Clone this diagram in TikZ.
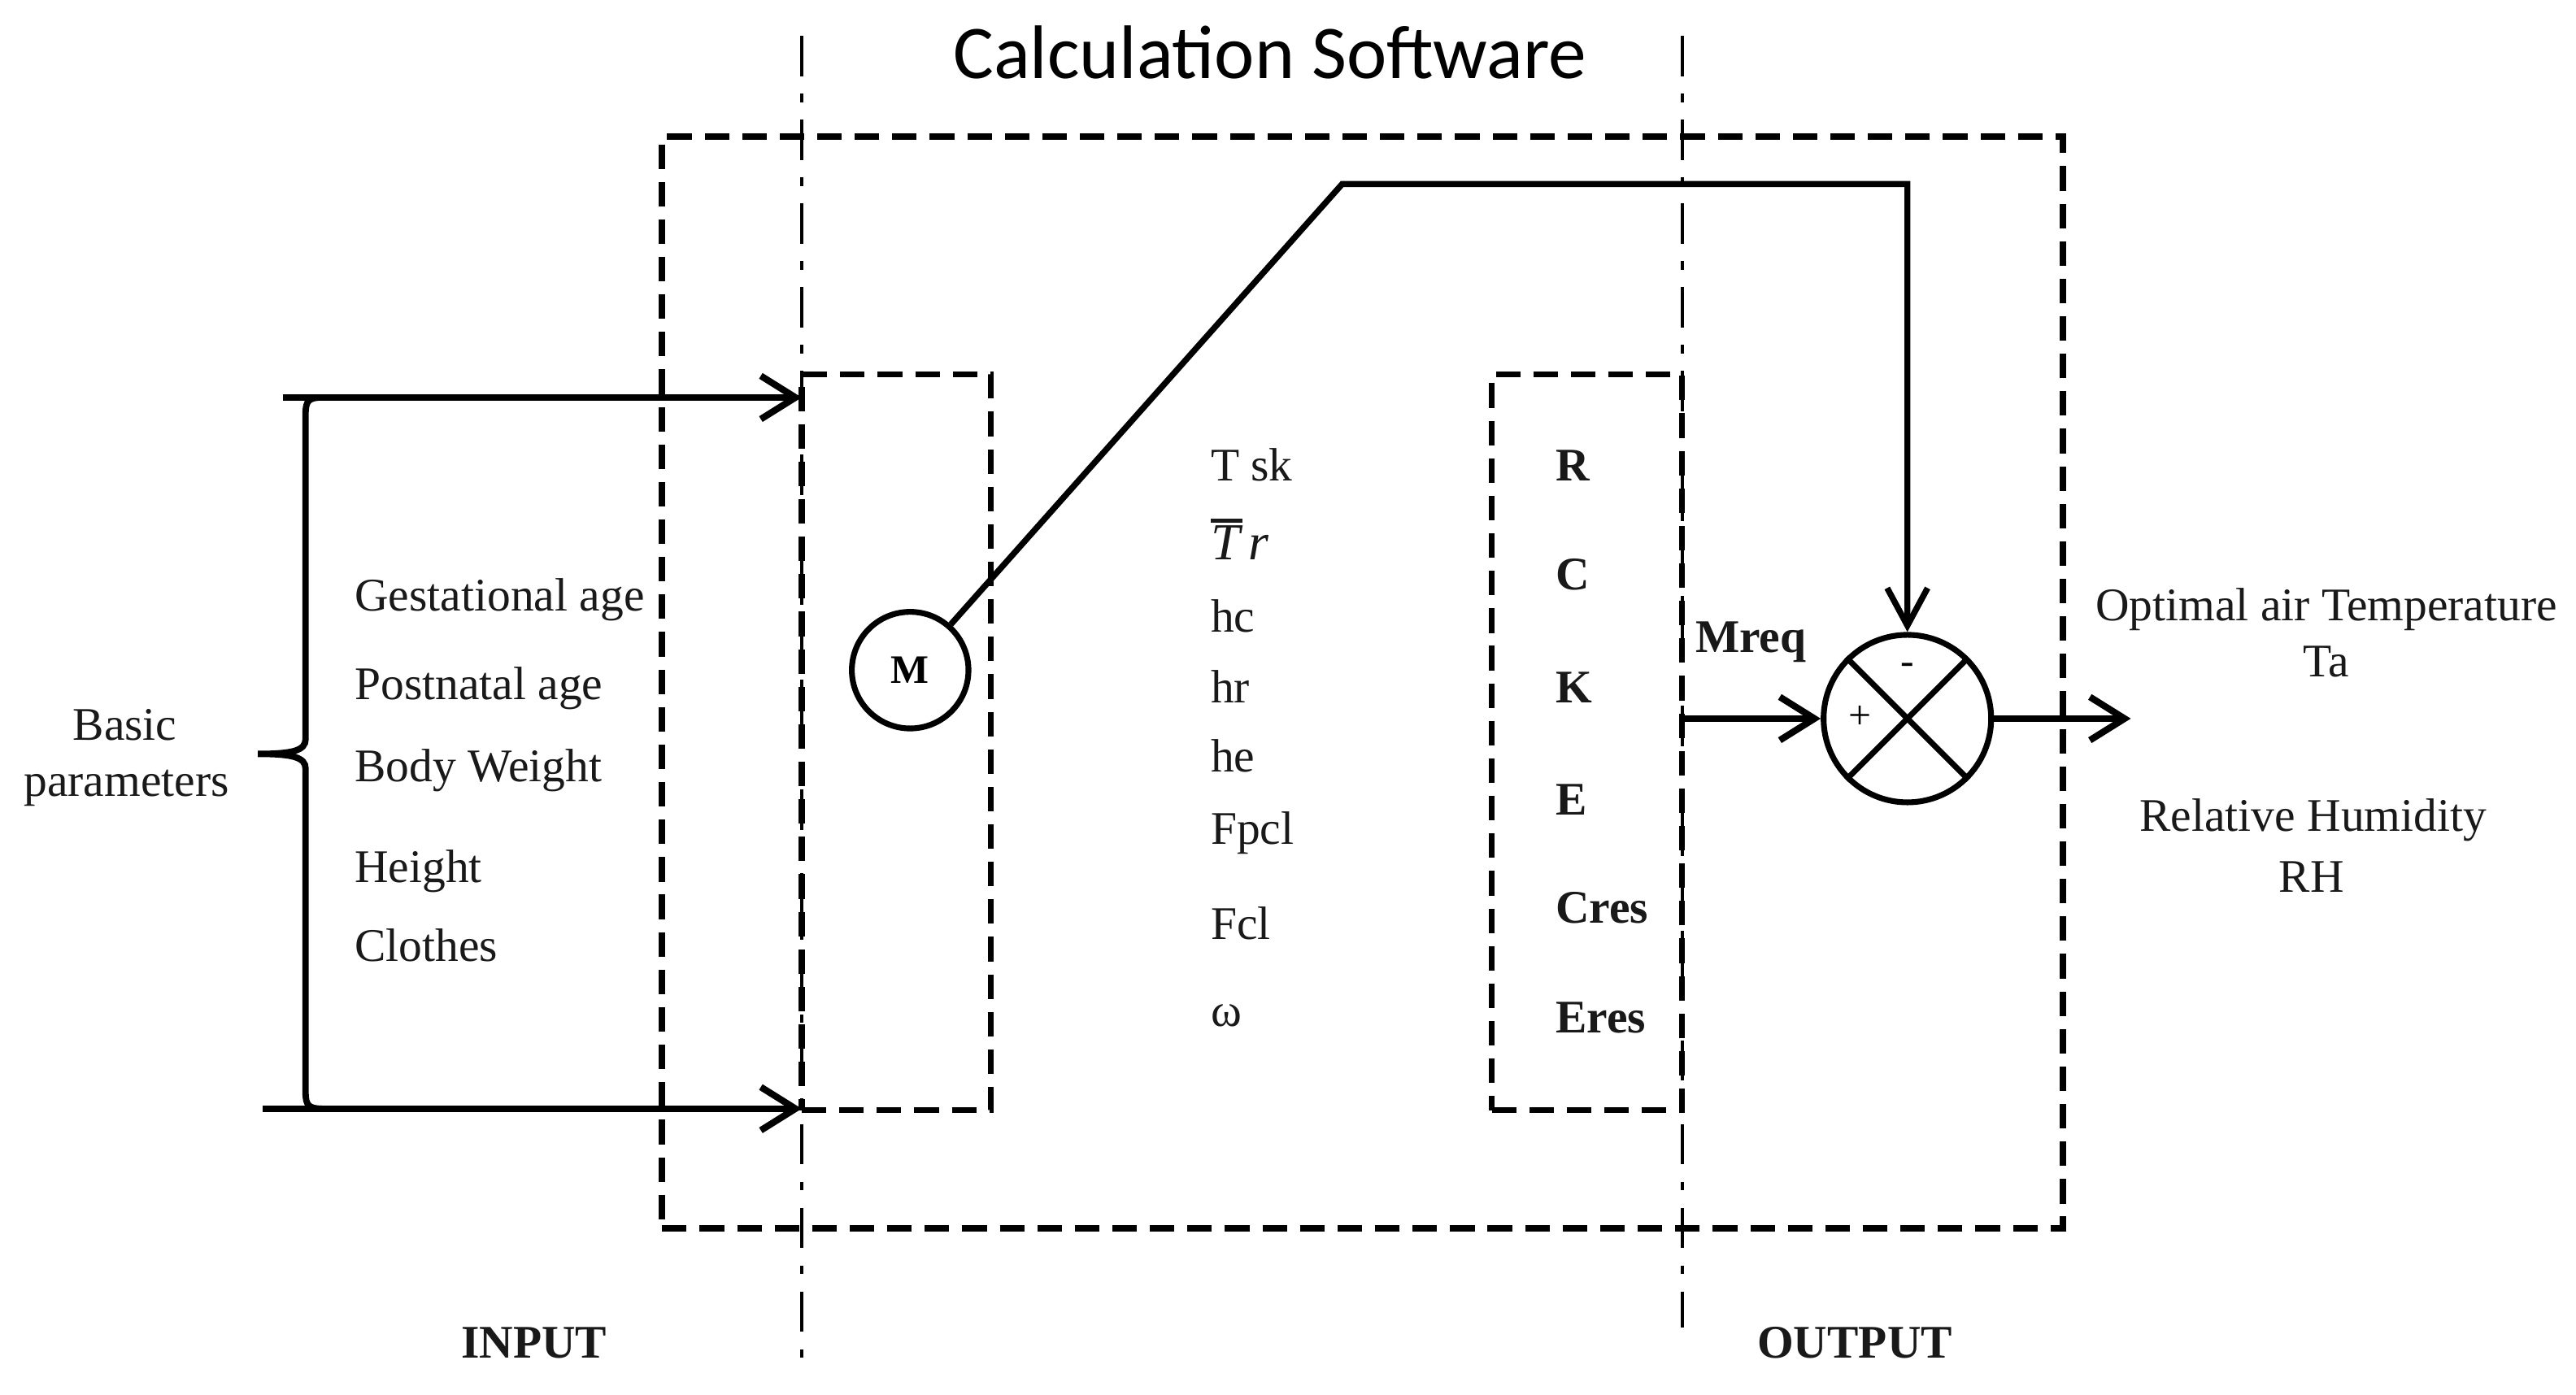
\documentclass[tikz,border=0pt]{standalone}
\usepackage{fontspec}
\setmainfont{Liberation Serif}
\newfontfamily\titlefont{Carlito}
\usetikzlibrary{arrows.meta}
\begin{document}
\begin{tikzpicture}[x=0.02cm,y=-0.02cm,
  txt/.style={inner sep=0pt, outer sep=0pt, text=black!90, font=\fontsize{16.2}{19}\selectfont},
  txtw/.style={txt, anchor=base west},
  txtc/.style={txt, anchor=base},
  btxtw/.style={txtw, font=\fontsize{16.2}{19}\selectfont\bfseries},
  btxtc/.style={txtc, font=\fontsize{16.2}{19}\selectfont\bfseries},
  dashbox/.style={draw, line width=2pt, dash pattern=on 8.5pt off 4.5pt, inner sep=0pt, outer sep=0pt, anchor=north west},
  dashdotline/.style={line width=1.1pt, dash pattern=on 14pt off 6pt on 3pt off 6pt},
  arr/.style={line width=2.3pt, -{Straight Barb[length=12pt,width=15pt]}},
  conn/.style={line width=2.1pt, line join=miter, -{Straight Barb[length=13pt,width=14pt]}},
  ring/.style={circle, draw, line width=2pt, inner sep=0pt},
  sign/.style={inner sep=0pt, font=\fontsize{14}{16}\selectfont},
]
\fill[white] (0,0) rectangle (1568,849);
\useasboundingbox (0,0) rectangle (1568,849);

% title
\node[anchor=base, inner sep=0pt, font=\titlefont\fontsize{26.3}{30}\selectfont] (title) at (773,48) {Calculation Software};

% boxes
\node[dashbox, line width=2.2pt, minimum width=17.06cm, minimum height=13.3cm] (soft) at (403,83) {};
\node[dashbox, minimum width=2.3cm, minimum height=8.96cm] (inbox) at (488,228) {};
\node[dashbox, minimum width=2.32cm, minimum height=8.96cm] (outbox) at (908,228) {};

% dash-dot separators
\coordinate (dl1) at (488,22);
\coordinate (dl2) at (488,830);
\coordinate (dr1) at (1024,22);
\coordinate (dr2) at (1024,808);
\draw[dashdotline] (dl1) -- (dl2);
\draw[dashdotline] (dr1) -- (dr2);

% brace and input arrows
\coordinate (topstart) at (172,242);
\coordinate (botstart) at (160,675);
\coordinate (btip) at (157,459);
\draw[line width=2.2pt] (196,242) .. controls (188,242) and (186,244) .. (186,252) -- (186,450)
  .. controls (186,457) and (178,459) .. (btip)
  .. controls (178,459) and (186,461) .. (186,468) -- (186,665)
  .. controls (186,673) and (188,675) .. (196,675);
\draw[arr] (topstart) -- (topstart -| inbox.west);
\draw[arr] (botstart) -- (botstart -| inbox.west);

\node[txtc] (basic1) at (76,450.5) {Basic};
\node[txtc] (basic2) at (77,485) {parameters};

\node[txtw] (ga) at (216,372) {Gestational age};
\node[txtw] (pa) at (216,426) {Postnatal age};
\node[txtw] (bw) at (216,476) {Body Weight};
\node[txtw] (ht) at (216,537.5) {Height};
\node[txtw] (cl) at (216,585.5) {Clothes};

% M circle
\node[ring, minimum size=1.42cm, font=\bfseries\fontsize{14}{16}\selectfont] (m) at (554,408) {M};

% middle variables
\node[txtw] (tsk) at (737,293) {T sk};
\node[txtw, font=\fontsize{18}{20}\selectfont\itshape] (tr) at (737,341) {\makebox[0pt][l]{\rule[13pt]{11pt}{1.3pt}}T\,r};
\node[txtw] (hc) at (737,385) {hc};
\node[txtw] (hr) at (737,428) {hr};
\node[txtw] (he) at (737,470) {he};
\node[txtw] (fpcl) at (737,514) {Fpcl};
\node[txtw] (fcl) at (737,572) {Fcl};
\node[txtw] (om) at (737,625) {ω};

% right box variables
\node[btxtw] (r) at (947,293) {R};
\node[btxtw] (c) at (947,359) {C};
\node[btxtw] (k) at (947,428) {K};
\node[btxtw] (e) at (947,496) {E};
\node[btxtw] (cres) at (947,562) {Cres};
\node[btxtw] (eres) at (947,629) {Eres};

% summing junction
\node[ring, minimum size=2.04cm] (sum) at (1161,437.5) {};
\draw[line width=2pt] (sum.north west) -- (sum.south east);
\draw[line width=2pt] (sum.north east) -- (sum.south west);
\node[sign] (minus) at (1161,407) {-};
\node[sign] (plus) at (1132,437) {+};

% connectors
\coordinate (bend) at (817,112);
\draw[conn] (m) -- (bend) -| (sum.north);
\node[btxtw] (mreq) at (1032,397) {Mreq};
\draw[arr] (outbox.east |- sum.west) -- (sum.west);
\coordinate (outend) at (1297,437.5);
\draw[arr] (sum.east) -- (outend);

% outputs
\node[txtc] (opt) at (1416,378) {Optimal air Temperature};
\node[txtc] (ta) at (1416,412) {Ta};
\node[txtc] (rel) at (1408,506) {Relative Humidity};
\node[txtc] (rh) at (1407,543) {RH};

% bottom labels
\node[btxtc] (input) at (325,827) {INPUT};
\node[btxtc] (output) at (1129,827) {OUTPUT};
\end{tikzpicture}
\end{document}
